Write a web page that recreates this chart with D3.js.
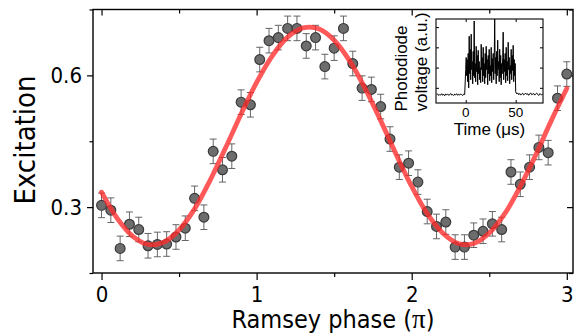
<!DOCTYPE html>
<html><head><meta charset="utf-8">
<script src="https://cdn.jsdelivr.net/npm/d3@7"></script>
<style>
body{margin:0;background:#fff;}
svg{display:block;}
.lab{font-family:"DejaVu Sans Condensed","DejaVu Sans",sans-serif;font-stretch:condensed;fill:#000;}
.sym{font-family:"Liberation Serif","DejaVu Serif",serif;font-stretch:normal;}
.ins{font-family:"Liberation Sans",Arial,sans-serif;fill:#000;}
</style></head><body>
<svg id="chart" width="576" height="335"></svg>
<script>
// ---------- main data ----------
const phases = [0.00,0.06,0.12,0.18,0.24,0.30,0.36,0.42,0.48,0.54,0.60,0.66,0.72,0.78,0.84,0.90,0.96,1.02,1.08,1.14,1.20,1.26,1.32,1.38,1.44,1.50,1.56,1.62,1.68,1.74,1.80,1.86,1.92,1.98,2.04,2.10,2.16,2.22,2.28,2.34,2.40,2.46,2.52,2.58,2.64,2.70,2.76,2.82,2.88,2.94,3.00];
const excitation = [0.304,0.293,0.206,0.261,0.249,0.212,0.215,0.216,0.232,0.252,0.320,0.277,0.427,0.385,0.416,0.539,0.533,0.636,0.679,0.686,0.707,0.707,0.667,0.686,0.620,0.662,0.707,0.627,0.571,0.568,0.529,0.455,0.391,0.400,0.357,0.290,0.256,0.266,0.209,0.209,0.236,0.245,0.262,0.249,0.380,0.352,0.391,0.436,0.424,0.548,0.603];
const errorHalf = 0.028;
const fitPhase = [0.0,0.1,0.2,0.3,0.4,0.5,0.6,0.7,0.8,0.9,1.0,1.1,1.2,1.3,1.4,1.5,1.6,1.7,1.8,1.9,2.0,2.1,2.2,2.3,2.4,2.5,2.6,2.7,2.8,2.9,3.0];
const fitValue = [0.334,0.275,0.234,0.215,0.220,0.248,0.296,0.361,0.435,0.512,0.584,0.644,0.687,0.708,0.706,0.680,0.633,0.570,0.497,0.420,0.347,0.285,0.241,0.217,0.217,0.241,0.285,0.347,0.419,0.497,0.570];
const xMajorTicks = [0,1,2,3];
const xMinorTicks = [0.5,1.5,2.5];
const yMajorTicks = [0.3,0.6];
const yMinorTicks = [0.15,0.45,0.75];
const xTitleParts = ["Ramsey phase (", "\u03c0", ")"];
const yTitle = "Excitation";

// ---------- inset data ----------
const beforeStart = -29, beforeStep = 1;
const traceBefore = [-0.34,-0.30,-0.38,-0.33,-0.36,-0.29,-0.37,-0.32,-0.39,-0.31,-0.35,-0.30,-0.37,-0.34,-0.28,-0.36,-0.33,-0.38,-0.31,-0.35,-0.29,-0.37,-0.32,-0.36,-0.30,-0.34,-0.38,-0.31,-0.33];
const pulseStart = 0, pulseStep = 0.5;
const tracePulse = [0.9,1.5,0.6,1.4,0.3,1.7,0.0,2.55,0.7,1.9,0.4,2.65,0.9,1.3,0.2,1.8,0.6,3.30,0.5,1.2,
  0.3,2.05,0.8,1.6,0.15,1.85,0.7,1.3,0.4,1.0,0.25,2.15,0.9,1.5,0.3,2.0,0.6,1.2,0.2,1.7,
  0.5,2.05,0.9,1.4,0.15,1.6,0.7,1.9,0.35,1.1,0.6,2.0,0.25,1.45,0.8,1.7,0.4,1.3,3.40,0.7,
  1.5,0.2,1.8,0.6,2.35,0.9,1.3,0.3,1.9,0.5,1.6,0.15,1.2,0.7,1.5,2.75,0.4,1.4,0.8,1.7,
  0.25,2.0,0.6,1.3,0.35,2.25,0.9,1.5,0.2,1.1,0.7,1.9,0.4,1.6,0.85,2.1,0.3,1.4,0.6,1.2];
const afterStart = 50, afterStep = 1;
const traceAfter = [-0.20,-0.30,-0.25,-0.34,-0.28,-0.36,-0.30,-0.27,-0.35,-0.31,-0.26,-0.33,-0.29,-0.37,-0.30,-0.25,-0.34,-0.31,-0.28,-0.36,-0.30,-0.26,-0.33,-0.38,-0.29,-0.32,-0.35,-0.30];
const insetXTicks = [0,50];
const insetXTickLabels = ["0","50"];
const insetYTicks = [0,1,2,3];
const insetXTitle = "Time (\u03bcs)";
const insetYTitle1 = "Photodiode";
const insetYTitle2 = "voltage (a.u.)";

// ---------- drawing ----------
const svg = d3.select("#chart");
const L = 93, R = 573, T = 9.5, B = 273;
const x = d3.scaleLinear().domain([-0.055, 3.04]).range([L, R]);
const y = d3.scaleLinear().domain([0.15, 0.75]).range([B, T]);

function styleAxis(g){
  g.select(".domain").remove();
  g.selectAll(".tick line").attr("stroke","#000").attr("stroke-width",1.2);
}
// bottom
svg.append("g").attr("transform",`translate(0,${B})`)
  .call(d3.axisBottom(x).tickValues(xMajorTicks).tickSize(7).tickPadding(6).tickFormat(d3.format("d")))
  .call(styleAxis)
  .call(g=>g.selectAll("text").attr("class","lab").attr("font-size",22).attr("font-family",null));
svg.append("g").attr("transform",`translate(0,${B})`)
  .call(d3.axisBottom(x).tickValues(xMinorTicks).tickSize(4).tickFormat(""))
  .call(styleAxis);
// top (inward)
svg.append("g").attr("transform",`translate(0,${T})`)
  .call(d3.axisTop(x).tickValues(xMajorTicks).tickSize(-6).tickFormat(""))
  .call(styleAxis);
svg.append("g").attr("transform",`translate(0,${T})`)
  .call(d3.axisTop(x).tickValues(xMinorTicks).tickSize(-4).tickFormat(""))
  .call(styleAxis);
// left
svg.append("g").attr("transform",`translate(${L},0)`)
  .call(d3.axisLeft(y).tickValues(yMajorTicks).tickSize(6).tickPadding(5).tickFormat(d3.format(".1f")))
  .call(styleAxis)
  .call(g=>g.selectAll("text").attr("class","lab").attr("font-size",22).attr("font-family",null));
svg.append("g").attr("transform",`translate(${L},0)`)
  .call(d3.axisLeft(y).tickValues(yMinorTicks).tickSize(3.5).tickFormat(""))
  .call(styleAxis);
// right (inward)
svg.append("g").attr("transform",`translate(${R},0)`)
  .call(d3.axisRight(y).tickValues(yMajorTicks).tickSize(-6).tickFormat(""))
  .call(styleAxis);
svg.append("g").attr("transform",`translate(${R},0)`)
  .call(d3.axisRight(y).tickValues(yMinorTicks).tickSize(-4).tickFormat(""))
  .call(styleAxis);
// frame
svg.append("rect").attr("x",L).attr("y",T).attr("width",R-L).attr("height",B-T)
  .attr("fill","none").attr("stroke","#000").attr("stroke-width",1.4);

// titles
const xt = svg.append("text").attr("class","lab").attr("font-size",25)
  .attr("x",(L+R)/2).attr("y",328).attr("text-anchor","middle");
xt.append("tspan").text(xTitleParts[0]);
xt.append("tspan").attr("class","sym").attr("font-size",27).text(xTitleParts[1]);
xt.append("tspan").text(xTitleParts[2]);
svg.append("text").attr("class","lab").attr("font-size",29)
  .attr("transform","translate(35,140) rotate(-90)").attr("text-anchor","middle").text(yTitle);

// data
const pts = phases.map((p,i)=>({p, v:excitation[i]}));
const eb = svg.append("g").attr("stroke","#555").attr("stroke-width",0.9);
pts.forEach(d=>{
  const cx = x(d.p), y1 = y(d.v-errorHalf), y2 = y(d.v+errorHalf);
  eb.append("line").attr("x1",cx).attr("x2",cx).attr("y1",y1).attr("y2",y2);
  eb.append("line").attr("x1",cx-3.5).attr("x2",cx+3.5).attr("y1",y1).attr("y2",y1);
  eb.append("line").attr("x1",cx-3.5).attr("x2",cx+3.5).attr("y1",y2).attr("y2",y2);
});
svg.append("g").selectAll("circle").data(pts).join("circle")
  .attr("cx",d=>x(d.p)).attr("cy",d=>y(d.v)).attr("r",4.9)
  .attr("fill","#6d6d6d").attr("stroke","#3a3a3a").attr("stroke-width",1.2);

// fit line
const fit = fitPhase.map((p,i)=>[p,fitValue[i]]);
svg.append("path").datum(fit)
  .attr("d",d3.line().x(d=>x(d[0])).y(d=>y(d[1])).curve(d3.curveCatmullRom.alpha(0.5)))
  .attr("fill","none").attr("stroke","#ff2a2a").attr("stroke-opacity",0.78)
  .attr("stroke-width",4.8).attr("stroke-linecap","round");

// ---------- inset ----------
const iL = 436, iR = 543, iT = 19, iB = 103;
const ix = d3.scaleLinear().domain([-29.7, 77.3]).range([iL, iR]);
const iy = d3.scaleLinear().domain([-0.75, 3.4]).range([iB, iT]);
const trace = []
  .concat(traceBefore.map((v,i)=>[beforeStart + i*beforeStep, v]))
  .concat(tracePulse.map((v,i)=>[pulseStart + i*pulseStep, v]))
  .concat(traceAfter.map((v,i)=>[afterStart + i*afterStep, v]));
svg.append("rect").attr("x",iL).attr("y",iT).attr("width",iR-iL).attr("height",iB-iT)
  .attr("fill","#fff");
svg.append("path").datum(trace)
  .attr("d",d3.line().x(d=>ix(d[0])).y(d=>iy(d[1])))
  .attr("fill","none").attr("stroke","#000").attr("stroke-width",1);
const ia = svg.append("g");
ia.append("g").attr("transform",`translate(0,${iB})`)
  .call(d3.axisBottom(ix).tickValues(insetXTicks).tickSize(-3).tickFormat(""))
  .call(styleAxis);
ia.append("g").attr("transform",`translate(0,${iT})`)
  .call(d3.axisTop(ix).tickValues(insetXTicks).tickSize(-3).tickFormat(""))
  .call(styleAxis);
ia.append("g").attr("transform",`translate(${iL},0)`)
  .call(d3.axisLeft(iy).tickValues(insetYTicks).tickSize(-3).tickFormat(""))
  .call(styleAxis);
ia.append("g").attr("transform",`translate(${iR},0)`)
  .call(d3.axisRight(iy).tickValues(insetYTicks).tickSize(-3).tickFormat(""))
  .call(styleAxis);
ia.selectAll(".tick line").attr("stroke-width",1);
svg.append("rect").attr("x",iL).attr("y",iT).attr("width",iR-iL).attr("height",iB-iT)
  .attr("fill","none").attr("stroke","#000").attr("stroke-width",1.1);
svg.append("g").selectAll("text").data(insetXTicks).join("text")
  .attr("class","ins").attr("font-size",13.5).attr("text-anchor","middle")
  .attr("x",d=>ix(d)).attr("y",117).text((d,i)=>insetXTickLabels[i]);
svg.append("text").attr("class","ins").attr("font-size",17).attr("text-anchor","middle")
  .attr("x",(iL+iR)/2).attr("y",135).text(insetXTitle);
svg.append("text").attr("class","ins").attr("font-size",17)
  .attr("transform","translate(407,111.5) rotate(-90)").text(insetYTitle1);
svg.append("text").attr("class","ins").attr("font-size",17)
  .attr("transform","translate(427,111.5) rotate(-90)").text(insetYTitle2);
</script>
</body></html>
